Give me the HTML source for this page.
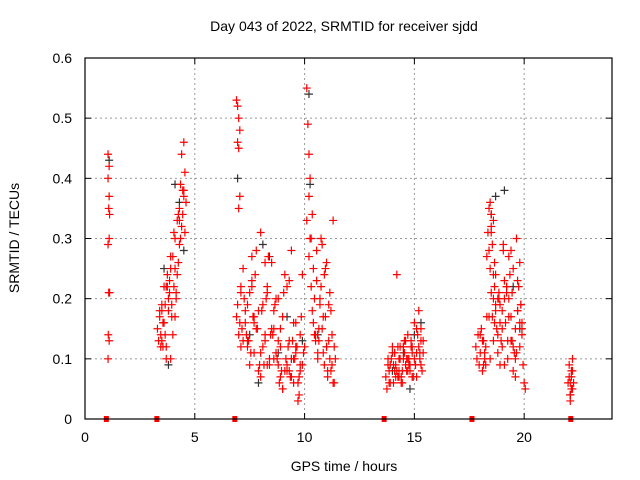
<!DOCTYPE html>
<html><head><meta charset="utf-8"><style>
body{margin:0;background:#fff}
svg{display:block;font-family:"Liberation Sans",sans-serif}
</style></head><body>
<svg id="chart" width="640" height="480" viewBox="0 0 640 480">
<rect width="640" height="480" fill="#fff"/>
<text x="344" y="31" font-size="14" text-anchor="middle">Day 043 of 2022, SRMTID for receiver sjdd</text>
<g id="grid"></g>
<g id="axes"></g>
<g id="marks"></g>
<rect x="85" y="58" width="527" height="361" fill="none" stroke="#000" stroke-width="1.2"/>
<text x="344" y="471" font-size="14" text-anchor="middle">GPS time / hours</text>
<text x="19" y="238" font-size="14" text-anchor="middle" transform="rotate(-90 19 238)">SRMTID / TECUs</text>
</svg>
<script>
const xTicks=[0,5,10,15,20];
const yTicks=[0,0.1,0.2,0.3,0.4,0.5,0.6];
const yTickLabels=["0","0.1","0.2","0.3","0.4","0.5","0.6"];
const gapTimes=[0.95,3.25,6.8,13.6,17.6,22.1];
const redX=[1.05,1.1,1.05,1.1,1.08,1.12,1.1,1.05,1.08,1.12,1.06,1.1,1.05,
3.3,3.35,3.4,3.45,3.5,3.55,3.6,3.65,3.7,3.75,3.8,3.85,3.9,3.95,4.0,4.05,4.1,4.15,4.2,4.25,4.3,4.35,4.4,4.45,4.5,4.55,4.6,3.4,3.6,3.8,4.0,4.2,4.4,4.5,4.3,4.1,3.9,3.7,3.5,4.25,4.35,4.45,4.55,4.15,3.95,3.75,3.55,
6.9,6.95,7.0,7.05,6.95,7.0,7.05,7.0,6.9,7.0,7.1,6.95,7.05,7.1,7.2,7.3,7.4,7.5,7.6,7.7,7.8,7.9,8.0,8.1,8.2,8.3,8.4,8.5,8.6,8.7,8.8,8.9,9.0,9.1,9.2,9.3,9.4,9.5,9.6,9.7,9.8,9.9,10.0,7.2,7.4,7.6,7.8,8.0,8.2,8.4,8.6,8.8,9.0,9.2,9.4,9.6,9.8,7.3,7.5,7.7,7.9,8.1,8.3,8.5,8.7,8.9,9.1,9.3,9.5,9.7,9.9,7.35,7.65,7.95,8.25,8.55,8.85,9.15,9.45,9.75,7.45,7.85,8.35,8.75,9.05,9.35,9.65,9.85,
10.1,10.15,10.2,10.25,10.1,10.2,10.3,10.4,10.5,10.6,10.7,10.8,10.9,11.0,11.1,11.2,11.3,11.4,10.35,10.45,10.55,10.65,10.75,10.85,10.95,11.05,11.15,11.25,11.35,10.2,10.3,10.4,10.6,10.8,11.0,11.2,11.3,10.5,10.7,10.9,11.1,
13.7,13.8,13.9,14.0,14.1,14.2,14.3,14.4,14.5,14.6,14.7,14.8,14.9,15.0,15.1,15.2,15.3,15.4,13.75,13.85,13.95,14.05,14.15,14.25,14.35,14.45,14.55,14.65,14.75,14.85,14.95,15.05,15.15,15.25,15.35,13.8,14.0,14.2,14.4,14.6,14.8,15.0,15.2,15.4,14.1,14.3,14.5,14.7,14.9,15.1,15.3,
17.8,17.85,17.9,17.95,18.0,18.05,18.1,18.15,18.2,18.25,18.3,18.35,18.4,18.45,18.5,18.55,18.6,18.65,18.7,18.75,18.8,18.85,18.9,18.95,19.0,19.05,19.1,19.15,19.2,19.25,19.3,19.35,19.4,19.45,19.5,19.55,19.6,19.65,19.7,19.75,19.8,19.85,19.9,19.95,20.0,20.05,18.4,18.5,18.6,18.5,18.45,18.55,18.6,18.65,18.7,18.8,18.9,19.0,19.1,19.2,19.3,19.4,19.5,19.6,19.7,19.8,19.9,18.0,18.2,18.4,18.6,18.8,19.0,19.2,19.4,19.6,19.8,
22.0,22.05,22.1,22.15,22.2,22.25,22.05,22.1,22.15,22.2,22.1,22.15,22.2,22.1,
7.15,7.25,7.55,7.75,8.05,8.15,8.45,8.65,8.95,9.25,9.55,9.75,9.95,7.1,7.4,7.7,8.0,8.3,8.6,8.9,9.2,9.5,9.8,7.6,8.2,8.8,9.4,9.0,9.3,9.6,
10.25,10.45,10.65,10.85,11.05,11.25,10.55,10.75,10.95,11.15,11.35,10.35,
13.9,14.1,14.3,14.5,14.7,14.9,15.1,15.3,13.85,14.05,14.25,14.45,14.65,14.85,15.05,15.25,14.15,14.35,14.55,14.75,
3.5,3.7,3.9,4.1,4.3,4.5,3.45,3.65,3.85,4.05,
18.1,18.3,18.5,18.7,18.9,19.1,19.3,19.5,19.7,19.9,18.25,18.45,18.65,18.85,19.05,19.25,19.45,19.65,19.85,18.15];
const redY=[0.44,0.42,0.40,0.37,0.35,0.34,0.30,0.29,0.21,0.21,0.14,0.13,0.10,
0.15,0.13,0.17,0.12,0.19,0.16,0.22,0.14,0.10,0.24,0.18,0.21,0.25,0.19,0.27,0.22,0.30,0.20,0.33,0.26,0.35,0.39,0.44,0.34,0.37,0.41,0.36,0.18,0.16,0.20,0.14,0.24,0.32,0.46,0.29,0.25,0.10,0.12,0.13,0.34,0.30,0.38,0.31,0.21,0.17,0.22,0.12,
0.53,0.52,0.50,0.48,0.46,0.45,0.37,0.35,0.17,0.14,0.12,0.19,0.16,0.21,0.25,0.18,0.12,0.09,0.23,0.16,0.28,0.08,0.31,0.19,0.13,0.22,0.10,0.26,0.15,0.11,0.20,0.07,0.17,0.24,0.09,0.13,0.28,0.06,0.11,0.03,0.14,0.09,0.12,0.13,0.19,0.22,0.15,0.07,0.26,0.09,0.18,0.13,0.05,0.22,0.10,0.16,0.08,0.16,0.21,0.11,0.18,0.12,0.09,0.15,0.20,0.12,0.08,0.23,0.10,0.06,0.24,0.14,0.17,0.09,0.20,0.14,0.06,0.10,0.13,0.04,0.13,0.15,0.27,0.10,0.21,0.07,0.12,0.17,
0.55,0.49,0.44,0.40,0.33,0.27,0.22,0.16,0.13,0.10,0.20,0.29,0.24,0.12,0.19,0.08,0.33,0.10,0.18,0.14,0.23,0.13,0.30,0.17,0.25,0.07,0.21,0.09,0.12,0.37,0.30,0.25,0.11,0.15,0.26,0.18,0.06,0.14,0.19,0.09,0.13,
0.07,0.09,0.06,0.11,0.08,0.24,0.10,0.07,0.12,0.09,0.14,0.08,0.11,0.10,0.15,0.12,0.09,0.11,0.05,0.08,0.10,0.06,0.09,0.07,0.12,0.06,0.11,0.08,0.10,0.13,0.07,0.09,0.14,0.10,0.08,0.10,0.12,0.08,0.06,0.13,0.09,0.16,0.18,0.13,0.11,0.07,0.10,0.08,0.12,0.07,0.15,
0.12,0.10,0.14,0.09,0.11,0.15,0.08,0.13,0.10,0.12,0.27,0.31,0.35,0.36,0.34,0.29,0.24,0.22,0.19,0.15,0.11,0.21,0.09,0.13,0.18,0.28,0.23,0.16,0.22,0.10,0.20,0.24,0.17,0.13,0.08,0.11,0.15,0.30,0.18,0.22,0.12,0.19,0.14,0.09,0.06,0.05,0.28,0.32,0.33,0.31,0.25,0.17,0.20,0.26,0.18,0.14,0.19,0.12,0.09,0.22,0.17,0.13,0.25,0.10,0.18,0.26,0.15,0.14,0.11,0.17,0.13,0.20,0.15,0.21,0.28,0.07,0.16,
0.06,0.07,0.04,0.05,0.08,0.06,0.09,0.03,0.07,0.05,0.06,0.08,0.10,0.04,
0.15,0.20,0.11,0.24,0.18,0.09,0.14,0.19,0.08,0.12,0.10,0.07,0.11,0.22,0.13,0.17,0.11,0.21,0.10,0.15,0.08,0.16,0.09,0.27,0.14,0.09,0.07,0.05,0.08,0.12,
0.30,0.20,0.15,0.11,0.08,0.14,0.28,0.22,0.17,0.10,0.06,0.34,
0.09,0.11,0.08,0.12,0.10,0.07,0.11,0.13,0.06,0.09,0.12,0.08,0.10,0.12,0.09,0.11,0.07,0.10,0.13,0.09,
0.18,0.22,0.27,0.17,0.33,0.38,0.14,0.19,0.23,0.31,
0.13,0.17,0.21,0.24,0.16,0.20,0.27,0.12,0.23,0.16,0.09,0.10,0.16,0.20,0.29,0.13,0.21,0.11,0.19,0.09];
const blackX=[1.1,3.6,3.8,4.1,4.5,4.3,6.95,7.5,8.1,8.8,9.4,9.9,10.2,10.25,10.6,11.0,14.0,14.5,15.0,15.3,18.5,18.7,19.1,19.5,19.8,22.1,7.9,8.4,9.2,14.8];
const blackY=[0.43,0.25,0.09,0.39,0.28,0.36,0.40,0.14,0.29,0.11,0.10,0.13,0.54,0.39,0.14,0.12,0.08,0.11,0.14,0.16,0.34,0.37,0.38,0.22,0.15,0.04,0.06,0.27,0.17,0.05];

const X=v=>85+v*(527/24), Y=v=>419-v*(361/0.6);
const NS="http://www.w3.org/2000/svg";
const grid=document.getElementById('grid'),axes=document.getElementById('axes'),marks=document.getElementById('marks');
function mk(tag,at,parent){const e=document.createElementNS(NS,tag);for(const k in at)e.setAttribute(k,at[k]);parent.appendChild(e);return e;}
xTicks.forEach(t=>{
  if(t>0){const g=mk('line',{x1:X(t),x2:X(t),y1:58,y2:419,stroke:'#999','stroke-dasharray':'2,3'},grid);
  
  }
  mk('line',{x1:X(t),x2:X(t),y1:419,y2:413,stroke:'#000'},axes);
  mk('line',{x1:X(t),x2:X(t),y1:58,y2:64,stroke:'#000'},axes);
  const l=mk('text',{x:X(t),y:442,'font-size':14,'text-anchor':'middle'},axes);l.textContent=t;
  
  
});
yTicks.forEach((t,i)=>{
  if(t>0&&t<0.6){const g=mk('line',{x1:85,x2:612,y1:Y(t),y2:Y(t),stroke:'#999','stroke-dasharray':'2,3'},grid);
  
  }
  mk('line',{x1:85,x2:91,y1:Y(t),y2:Y(t),stroke:'#000'},axes);
  mk('line',{x1:606,x2:612,y1:Y(t),y2:Y(t),stroke:'#000'},axes);
  const l=mk('text',{x:72,y:Y(t)+5,'font-size':14,'text-anchor':'end'},axes);l.textContent=yTickLabels[i];
  
  
});
function plus(x,y,c,name){const p=mk('path',{d:`M${X(x)-4},${Y(y)}h8M${X(x)},${Y(y)-4}v8`,stroke:c,'stroke-width':1.2,fill:'none'},marks);
  
  }
blackX.forEach((x,i)=>plus(x,blackY[i],'#333','black-point'));
redX.forEach((x,i)=>plus(x,redY[i],'#f00','red-point'));
gapTimes.forEach(x=>{const r=mk('rect',{x:X(x)-2,y:416,width:5,height:6,fill:'#f00'},marks);
  
  });
</script>
</body></html>
